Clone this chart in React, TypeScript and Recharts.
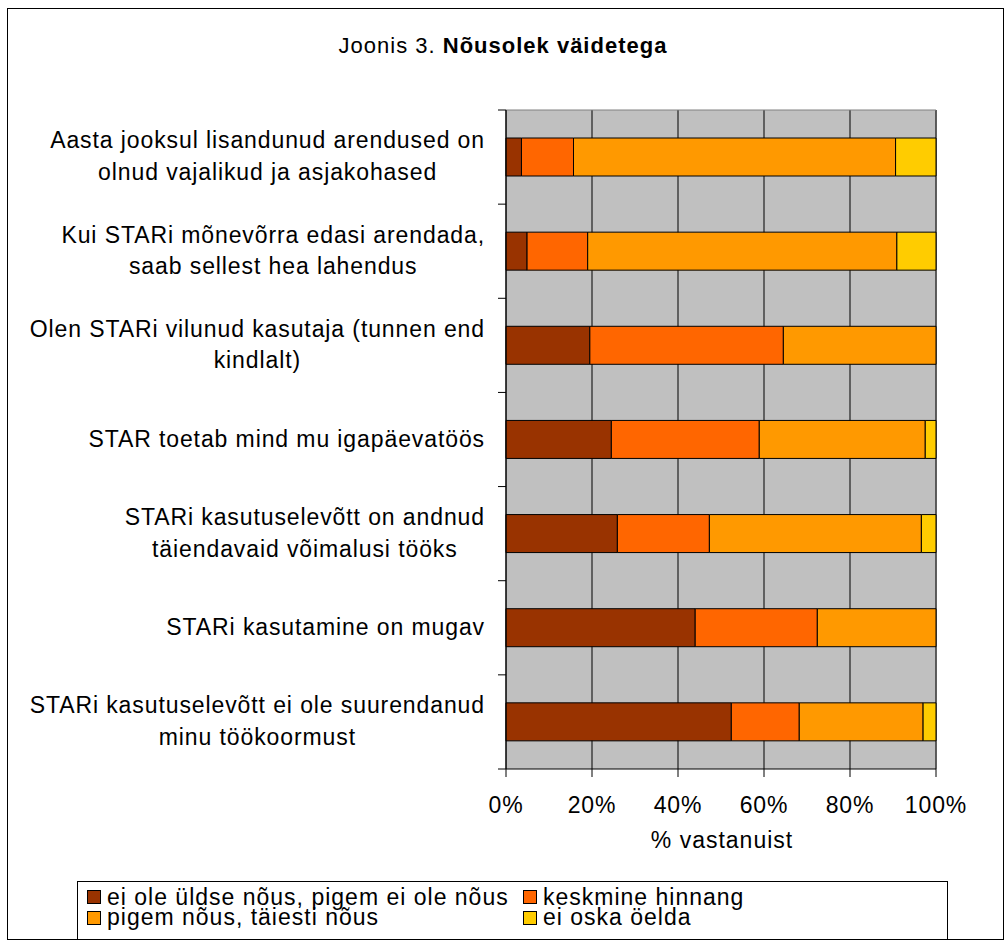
import React from 'react';
import { BarChart, Bar, XAxis, YAxis, CartesianGrid } from 'recharts';

// Joonis 3 – nõusolek väidetega (100% tulbad)
const CATEGORIES = [
  'Aasta jooksul lisandunud arendused on\nolnud vajalikud ja asjakohased',
  'Kui STARi mõnevõrra edasi arendada,\nsaab sellest hea lahendus',
  'Olen STARi vilunud kasutaja (tunnen end\nkindlalt)',
  'STAR toetab mind mu igapäevatöös',
  'STARi kasutuselevõtt on andnud\ntäiendavaid võimalusi tööks',
  'STARi kasutamine on mugav',
  'STARi kasutuselevõtt ei ole suurendanud\nminu töökoormust',
];

const DISAGREE = [3.6, 4.9, 19.5, 24.5, 25.9, 44.0, 52.4];
const NEUTRAL = [12.1, 14.1, 45.0, 34.4, 21.4, 28.4, 15.8];
const AGREE = [74.9, 71.9, 35.5, 38.6, 49.3, 27.6, 28.8];
const DONT_KNOW = [9.4, 9.1, 0, 2.5, 3.4, 0, 3.0];

const SERIES_NAMES = [
  'ei ole üldse nõus, pigem ei ole nõus',
  'keskmine hinnang',
  'pigem nõus, täiesti nõus',
  'ei oska öelda',
];
const SERIES_KEYS = ['disagree', 'neutral', 'agree', 'dontKnow'];
const COLORS = ['#993300', '#FF6600', '#FF9900', '#FFCC00'];
const X_TICKS = [0, 20, 40, 60, 80, 100];

const data = CATEGORIES.map((name, i) => ({
  name,
  disagree: DISAGREE[i],
  neutral: NEUTRAL[i],
  agree: AGREE[i],
  dontKnow: DONT_KNOW[i],
}));

const FONT = '"Liberation Sans", Arial, sans-serif';
const LABEL_SIZE = 23;
const SPACING = 0.9;
const LINE_H = 31.5;
const PLOT_TOP = 110;
const PLOT_BOTTOM = 769;
const BAND = (PLOT_BOTTOM - PLOT_TOP) / CATEGORIES.length;

// tekstilaiuse mõõtmine canvasega
let ctx: CanvasRenderingContext2D | null = null;
function measure(s: string) {
  if (!ctx) ctx = document.createElement('canvas').getContext('2d');
  if (!ctx) return s.length * LABEL_SIZE * 0.55;
  ctx.font = `${LABEL_SIZE}px "Liberation Sans"`;
  return ctx.measureText(s).width + s.length * SPACING;
}

function YTick(props: any) {
  const { x, y, payload, index } = props;
  const lines = String(payload.value).split('\n');
  const w = Math.max(...lines.map(measure));
  const cx = x - w / 2;
  const y0 = y - ((lines.length - 1) * LINE_H) / 2;
  const axisX = x + 21;
  return (
    <g>
      {lines.map((l, k) => (
        <text
          key={k}
          x={cx}
          y={y0 + k * LINE_H}
          dy="0.31em"
          textAnchor="middle"
          fontSize={LABEL_SIZE}
          fontFamily={FONT}
          letterSpacing={SPACING}
          fill="#000"
        >
          {l}
        </text>
      ))}
      <line x1={axisX - 8} x2={axisX} y1={y - BAND / 2} y2={y - BAND / 2} stroke="#000" />
      {index === CATEGORIES.length - 1 && (
        <line x1={axisX - 8} x2={axisX} y1={y + BAND / 2} y2={y + BAND / 2} stroke="#000" />
      )}
    </g>
  );
}

function XTick(props: any) {
  const { x, y, payload } = props;
  return (
    <text
      x={x}
      y={y}
      dy="0.71em"
      textAnchor="middle"
      fontSize={LABEL_SIZE}
      fontFamily={FONT}
      letterSpacing={SPACING}
      fill="#000"
    >
      {`${payload.value}%`}
    </text>
  );
}

export default function App() {
  return (
    <div style={{ position: 'absolute', left: 0, top: 0, width: 1006, height: 942, background: '#fff', fontFamily: FONT }}>
      <div
        style={{
          position: 'absolute',
          left: 7,
          top: 8,
          width: 997,
          height: 932,
          border: '1px solid #000',
          boxSizing: 'border-box',
        }}
      />
      <div
        style={{
          position: 'absolute',
          left: 0,
          top: 35,
          width: 1006,
          textAlign: 'center',
          fontSize: 22,
          lineHeight: '22px',
          letterSpacing: 1,
        }}
      >
        Joonis 3. <b>Nõusolek väidetega</b>
      </div>

      <div style={{ position: 'absolute', left: 0, top: 0 }}>
        <BarChart
          width={1006}
          height={942}
          data={data}
          layout="vertical"
          margin={{ top: PLOT_TOP, right: 70, bottom: 113, left: 20 }}
        >
          <CartesianGrid horizontal={false} stroke="#000" fill="#C0C0C0" fillOpacity={1} />
          <CartesianGrid
            stroke="#808080"
            fill="none"
            horizontalCoordinatesGenerator={({ offset }: any) => [offset.top]}
            verticalCoordinatesGenerator={({ offset }: any) => [offset.left + offset.width]}
          />
          <XAxis
            type="number"
            domain={[0, 100]}
            ticks={X_TICKS}
            tickSize={8}
            tickMargin={20}
            height={60}
            stroke="#000"
            tick={<XTick />}
          />
          <YAxis
            type="category"
            dataKey="name"
            width={486}
            interval={0}
            tickSize={8}
            tickMargin={13}
            tickLine={false}
            stroke="#000"
            tick={<YTick />}
          />
          {SERIES_KEYS.map((k, i) => (
            <Bar
              key={k}
              dataKey={k}
              name={SERIES_NAMES[i]}
              stackId="a"
              fill={COLORS[i]}
              stroke="#000"
              strokeWidth={1}
              barSize={38}
              isAnimationActive={false}
            />
          ))}
        </BarChart>
      </div>

      <div
        style={{
          position: 'absolute',
          left: 522,
          top: 829,
          width: 400,
          textAlign: 'center',
          fontSize: LABEL_SIZE,
          lineHeight: '22px',
          letterSpacing: 1,
        }}
      >
        % vastanuist
      </div>

      <div
        style={{
          position: 'absolute',
          left: 77,
          top: 881,
          width: 871,
          height: 59,
          border: '1px solid #000',
          boxSizing: 'border-box',
          background: '#fff',
        }}
      >
        {SERIES_NAMES.map((n, i) => {
          const col = i % 2;
          const row = Math.floor(i / 2);
          const left = col === 0 ? 9 : 445;
          return (
            <React.Fragment key={n}>
              <div
                style={{
                  position: 'absolute',
                  left,
                  top: 8 + row * 21,
                  width: 14,
                  height: 14,
                  background: COLORS[i],
                  border: '1px solid #000',
                  boxSizing: 'border-box',
                }}
              />
              <div
                style={{
                  position: 'absolute',
                  left: left + 20,
                  top: 5 + row * 20,
                  fontSize: 23,
                  lineHeight: '20px',
                  letterSpacing: 1,
                  whiteSpace: 'nowrap',
                }}
              >
                {n}
              </div>
            </React.Fragment>
          );
        })}
      </div>
    </div>
  );
}
